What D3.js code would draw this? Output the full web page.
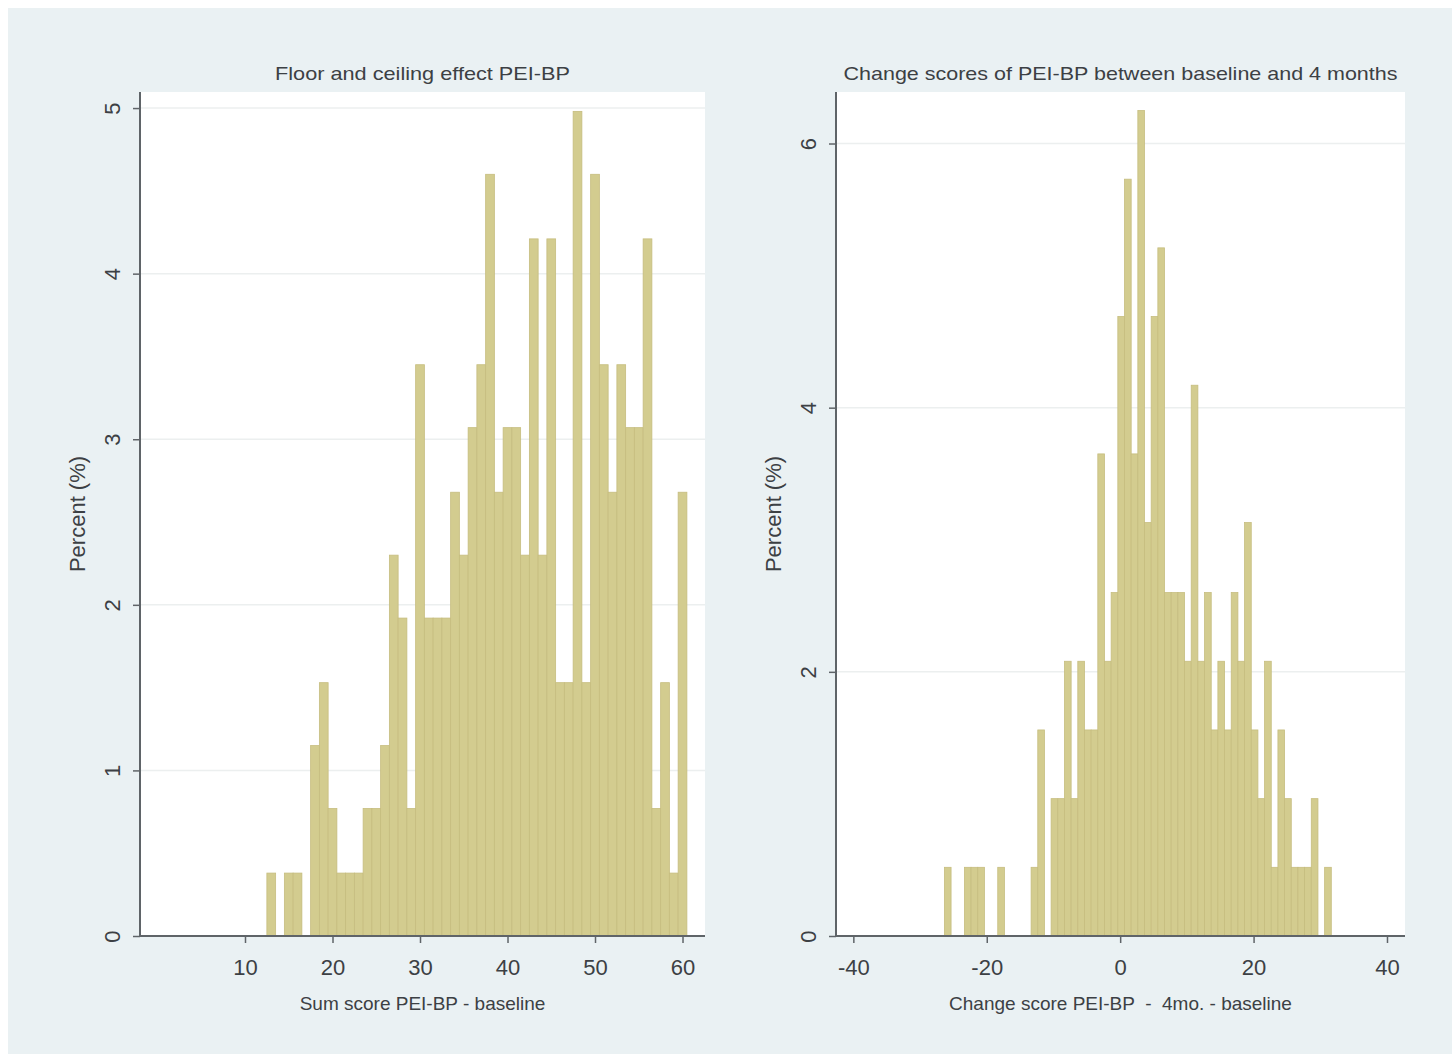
<!DOCTYPE html>
<html>
<head>
<meta charset="utf-8">
<script src="https://cdn.jsdelivr.net/npm/d3@7"></script>
<style>
  body { margin: 0; background: #fff; }
  svg { display: block; font-family: "Liberation Sans", Arial, sans-serif; }
</style>
</head>
<body>
<div id="chart"></div>
<script>
// left histogram: sum score at baseline (bin value -> percent)
const leftBins = [13, 15, 16, 18, 19, 20, 21, 22, 23, 24, 25, 26, 27, 28, 29, 30,
  31, 32, 33, 34, 35, 36, 37, 38, 39, 40, 41, 42, 43, 44, 45, 46, 47, 48, 49, 50,
  51, 52, 53, 54, 55, 56, 57, 58, 59, 60]
const leftPct = [0.38, 0.38, 0.38, 1.15, 1.53, 0.77, 0.38, 0.38, 0.38, 0.77, 0.77, 1.15, 2.30, 1.92, 0.77, 3.45,
  1.92, 1.92, 1.92, 2.68, 2.30, 3.07, 3.45, 4.60, 2.68, 3.07, 3.07, 2.30, 4.21, 2.30, 4.21, 1.53, 1.53, 4.98, 1.53, 4.60,
  3.45, 2.68, 3.45, 3.07, 3.07, 4.21, 0.77, 1.53, 0.38, 2.68]
const leftXTicks = [10, 20, 30, 40, 50, 60]
const leftYTicks = [0, 1, 2, 3, 4, 5]

// right histogram: change score 4 months - baseline
const rightBins = [-26, -23, -22, -21, -18, -13, -12, -10, -9, -8, -7, -6, -5, -4, -3, -2, -1,
  0, 1, 2, 3, 4, 5, 6, 7, 8, 9, 10, 11, 12, 13, 14, 15, 16, 17, 18, 19, 20,
  21, 22, 23, 24, 25, 26, 27, 28, 29, 31]
const rightPct = [0.52, 0.52, 0.52, 0.52, 0.52, 0.52, 1.56, 1.04, 1.04, 2.08, 1.04, 2.08, 1.56, 1.56, 3.65, 2.08, 2.60,
  4.69, 5.73, 3.65, 6.25, 3.13, 4.69, 5.21, 2.60, 2.60, 2.60, 2.08, 4.17, 2.08, 2.60, 1.56, 2.08, 1.56, 2.60, 2.08, 3.13, 1.56,
  1.04, 2.08, 0.52, 1.56, 1.04, 0.52, 0.52, 0.52, 1.04, 0.52]
const rightXTicks = [-40, -20, 0, 20, 40]
const rightYTicks = [0, 2, 4, 6]

const width = 1452, height = 1054
const barFill = "#d3cc8f", barStroke = "#c6bd7f"
const axisColor = "#5f6468", textColor = "#3c4044"
// plain hyphen for negatives, like the original
const fmt = d => String(d)

let svg = d3.select("#chart").append("svg")
  .attr("width", width)
  .attr("height", height)

// outer graph region
svg.append("rect").attr("x", 8).attr("y", 8)
  .attr("width", width - 8).attr("height", height - 8)
  .attr("fill", "#eaf1f3")

function drawPanel(opt) {
  let x = d3.scaleLinear().domain(opt.xDomain).range([opt.left, opt.right])
  let y = d3.scaleLinear().domain(opt.yDomain).range([opt.bottom, opt.top])

  let g = svg.append("g")

  g.append("rect")
    .attr("x", opt.left).attr("y", opt.top)
    .attr("width", opt.right - opt.left).attr("height", opt.bottom - opt.top)
    .attr("fill", "#fff")

  // grid lines
  g.append("g").selectAll("line")
    .data(opt.yTicks.filter(d => d > 0))
    .join("line")
    .attr("x1", opt.left).attr("x2", opt.right)
    .attr("y1", d => y(d)).attr("y2", d => y(d))
    .attr("stroke", "#ecefef").attr("stroke-width", 1.5)

  // bars
  let data = opt.bins.map((b, i) => ({ bin: b, pct: opt.pct[i] }))
  g.append("g").selectAll("rect")
    .data(data)
    .join("rect")
    .attr("x", d => x(d.bin - opt.offset))
    .attr("width", d => x(d.bin - opt.offset + 1) - x(d.bin - opt.offset))
    .attr("y", d => y(d.pct))
    .attr("height", d => y(0) - y(d.pct))
    .attr("fill", barFill)
    .attr("stroke", barStroke)
    .attr("stroke-width", 0.8)

  // x axis
  let xAxis = g.append("g")
    .attr("transform", `translate(0,${opt.bottom})`)
    .call(d3.axisBottom(x).tickValues(opt.xTicks).tickFormat(fmt)
      .tickSize(7).tickPadding(16).tickSizeOuter(0))
  xAxis.select(".domain").attr("stroke", axisColor).attr("stroke-width", 2)
    .attr("d", `M${opt.left},0H${opt.right}`)
  xAxis.selectAll(".tick line").attr("stroke", axisColor).attr("stroke-width", 1.5)
  xAxis.selectAll(".tick text")
    .attr("fill", textColor).attr("font-size", 22)
    .attr("font-family", "Liberation Sans, Arial, sans-serif")

  // y axis with rotated labels
  let yAxis = g.append("g")
    .attr("transform", `translate(${opt.left},0)`)
    .call(d3.axisLeft(y).tickValues(opt.yTicks).tickFormat(fmt)
      .tickSize(7).tickSizeOuter(0))
  yAxis.select(".domain").attr("stroke", axisColor).attr("stroke-width", 2)
    .attr("d", `M0,${opt.bottom}V${opt.top}`)
  yAxis.selectAll(".tick line").attr("stroke", axisColor).attr("stroke-width", 1.5)
  yAxis.selectAll(".tick text")
    .attr("x", null).attr("dy", null)
    .attr("transform", "translate(-28,0) rotate(-90)")
    .attr("text-anchor", "middle")
    .attr("dy", "0.35em")
    .attr("fill", textColor).attr("font-size", 22)
    .attr("font-family", "Liberation Sans, Arial, sans-serif")

  // titles
  let cx = (opt.left + opt.right) / 2
  svg.append("text")
    .attr("x", cx).attr("y", 80)
    .attr("text-anchor", "middle")
    .attr("font-size", 19).attr("fill", textColor)
    .attr("textLength", opt.titleLen).attr("lengthAdjust", "spacingAndGlyphs")
    .text(opt.title)

  svg.append("text")
    .attr("x", cx).attr("y", 1010)
    .attr("text-anchor", "middle")
    .attr("font-size", 19).attr("fill", textColor)
    .style("white-space", "pre")
    .text(opt.xLabel)

  svg.append("text")
    .attr("transform", `translate(${opt.left - 55},${(opt.top + opt.bottom) / 2}) rotate(-90)`)
    .attr("text-anchor", "middle")
    .attr("font-size", 22).attr("fill", textColor)
    .text("Percent (%)")
}

drawPanel({
  left: 140, right: 705, top: 92, bottom: 936,
  xDomain: [-2, 62.57], yDomain: [0, 5.097],
  bins: leftBins, pct: leftPct, offset: 0.5,
  xTicks: leftXTicks, yTicks: leftYTicks,
  title: "Floor and ceiling effect PEI-BP", titleLen: 295,
  xLabel: "Sum score PEI-BP - baseline"
})

drawPanel({
  left: 836, right: 1405, top: 92, bottom: 936,
  xDomain: [-42.6, 42.7], yDomain: [0, 6.39],
  bins: rightBins, pct: rightPct, offset: 0.35,
  xTicks: rightXTicks, yTicks: rightYTicks,
  title: "Change scores of PEI-BP between baseline and 4 months", titleLen: 554,
  xLabel: "Change score PEI-BP  -  4mo. - baseline"
})
</script>
</body>
</html>
